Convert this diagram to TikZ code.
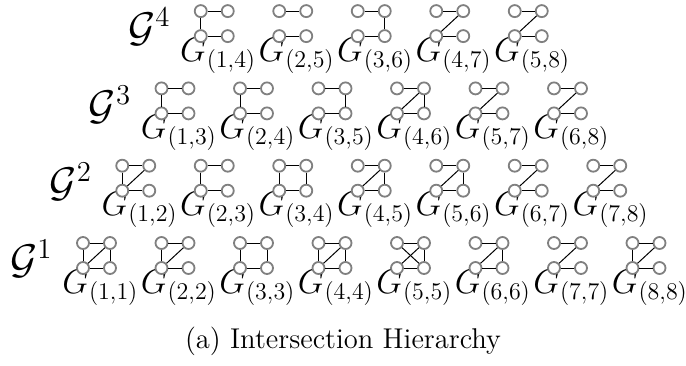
\documentclass[tikz,border=0pt]{standalone}
\begin{document}
\begin{tikzpicture}[x=0.5pt,y=-0.5pt,
  vtx/.style={circle,draw=gray,fill=white,line width=0.9pt,minimum size=6pt,inner sep=0pt},
  edg/.style={line width=0.5pt,black},
  glabel/.style={anchor=base west,inner sep=0pt,font=\fontsize{16.5}{20}\selectfont},
  hlabel/.style={anchor=east,inner sep=0pt,font=\fontsize{20.5}{24}\selectfont},
  caption/.style={inner sep=0pt,font=\fontsize{14.3}{17}\selectfont}]
\useasboundingbox (0,0) rectangle (686,365);
\foreach \r/\k/\E in {
  1/1/{a/b,c/d,a/c,b/d,c/b}, 1/2/{a/b,c/d,a/c,c/b}, 1/3/{a/b,c/d,a/c,b/d},
  1/4/{a/b,c/d,a/c,b/d,c/b}, 1/5/{a/b,c/d,b/d,c/b,a/d}, 1/6/{a/b,c/d,b/d,c/b},
  1/7/{a/b,c/d,c/b}, 1/8/{a/b,c/d,a/c,c/b},
  2/1/{a/b,c/d,a/c,c/b}, 2/2/{a/b,c/d,a/c}, 2/3/{a/b,c/d,a/c,b/d},
  2/4/{a/b,c/d,b/d,c/b}, 2/5/{a/b,c/d,b/d,c/b}, 2/6/{a/b,c/d,c/b}, 2/7/{a/b,c/d,c/b},
  3/1/{a/b,c/d,a/c}, 3/2/{a/b,c/d,a/c}, 3/3/{a/b,c/d,b/d},
  3/4/{a/b,c/d,b/d,c/b}, 3/5/{a/b,c/d,c/b}, 3/6/{a/b,c/d,c/b},
  4/1/{a/b,c/d,a/c}, 4/2/{a/b,c/d}, 4/3/{a/b,c/d,b/d},
  4/4/{a/b,c/d,c/b}, 4/5/{a/b,c/d,c/b}} {
  \pgfmathsetmacro{\xo}{83+39.25*(\r-1)+78.5*(\k-1)}
  \pgfmathsetmacro{\yo}{268-77.3*(\r-1)}
  \pgfmathtruncatemacro{\j}{\k+\r-1}
  \node[glabel] (l\r\k) at (\xo-21,\yo+25) {$G_{(\k,\j)}$};
  \node[vtx] (n\r\k a) at (\xo,\yo-25) {};
  \node[vtx] (n\r\k b) at (\xo+27,\yo-25) {};
  \node[vtx] (n\r\k c) at (\xo,\yo) {};
  \node[vtx] (n\r\k d) at (\xo+27,\yo) {};
  \foreach \u/\v in \E {\draw[edg] (n\r\k\u) -- (n\r\k\v);}
}
\foreach \r in {1,2,3,4} {
  \pgfmathsetmacro{\xo}{83+39.25*(\r-1)}
  \pgfmathsetmacro{\yo}{268-77.3*(\r-1)}
  \node[hlabel] (h\r) at (\xo-30,\yo-9) {$\mathcal{G}^{\r}$};
}
\node[caption] (cap) at (343,341) {(a) Intersection Hierarchy};
\end{tikzpicture}
\end{document}
